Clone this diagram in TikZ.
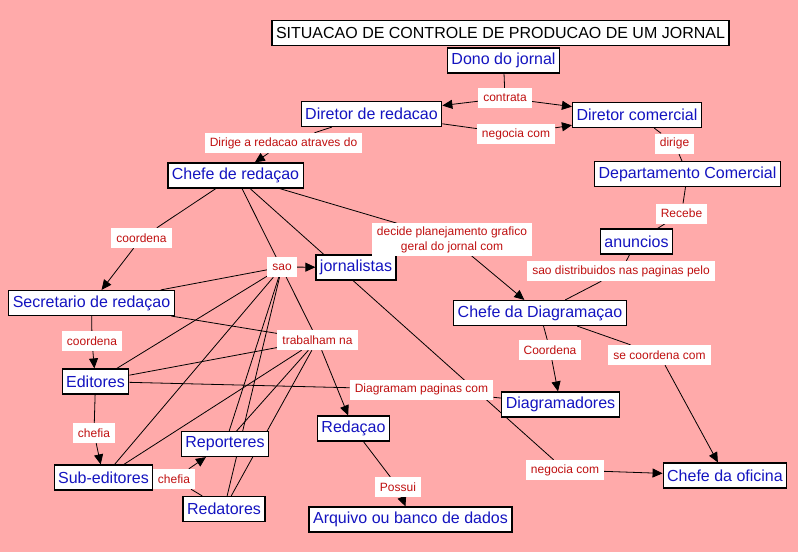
\documentclass[tikz,border=0pt]{standalone}
\usepackage{fontspec}
\setmainfont{Liberation Sans}
\usetikzlibrary{arrows.meta}
\definecolor{mappink}{HTML}{FFAAAA}
\definecolor{mapblue}{HTML}{1414C0}
\definecolor{mapred}{HTML}{C01010}
\pgfdeclarelayer{backdrop}
\pgfdeclarelayer{links}
\pgfsetlayers{backdrop,links,main}
\tikzset{
  concept/.style={draw=black, fill=white, line width=1.2pt, text=mapblue,
    font=\fontsize{16}{18}\selectfont, inner xsep=4pt, inner ysep=0pt,
    minimum height=25pt},
  phrase/.style={fill=white, text=mapred, font=\fontsize{12}{15}\selectfont,
    inner xsep=5pt, inner ysep=0pt, minimum height=20pt, align=center},
  joinline/.style={draw=black, line width=0.8pt},
  joinarrow/.style={joinline, -{Triangle[length=10pt,width=9pt]}}
}

\begin{document}
\begin{tikzpicture}[x=1pt, y=-1pt]
  \begin{pgfonlayer}{backdrop}
    \fill[mappink] (0,0) rectangle (798,552);
  \end{pgfonlayer}
  \useasboundingbox (0,0) rectangle (798,552);

  % concepts
  \node[concept, text=black] (title) at (500.5,33) {SITUACAO DE CONTROLE DE PRODUCAO DE UM JORNAL};
  \node[concept] (dono) at (503.5,60.5) {Dono do jornal};
  \node[concept] (dirred) at (371.5,114) {Diretor de redacao};
  \node[concept] (dircom) at (637,115) {Diretor comercial};
  \node[concept] (chefered) at (235.5,175.5) {Chefe de redaçao};
  \node[concept] (depcom) at (687.5,174) {Departamento Comercial};
  \node[concept] (anuncios) at (636.5,241.5) {anuncios};
  \node[concept] (jornalistas) at (356,267.5) {jornalistas};
  \node[concept] (secred) at (91.5,303) {Secretario de redaçao};
  \node[concept] (chefediag) at (540,313) {Chefe da Diagramaçao};
  \node[concept] (editores) at (95.5,381.5) {Editores};
  \node[concept] (diagramadores) at (560.5,404.5) {Diagramadores};
  \node[concept] (redacao) at (353.5,428.5) {Redaçao};
  \node[concept] (reporteres) at (225,444) {Reporteres};
  \node[concept] (chefeofi) at (725,475.5) {Chefe da oficina};
  \node[concept] (subed) at (103.5,477.5) {Sub-editores};
  \node[concept] (redatores) at (224,509) {Redatores};
  \node[concept] (arquivo) at (410.5,519.5) {Arquivo ou banco de dados};

  % linking phrases
  \node[phrase] (contrata) at (505,98) {contrata};
  \node[phrase] (negociatop) at (516,134) {negocia com};
  \node[phrase] (dirigered) at (283.5,143) {Dirige a redacao atraves do};
  \node[phrase] (dirige) at (674.5,143.5) {dirige};
  \node[phrase] (recebe) at (681.5,213.5) {Recebe};
  \node[phrase] (coordtop) at (141.5,238) {coordena};
  \node[phrase, inner ysep=3pt] (decide) at (452,239.5) {decide planejamento grafico\\geral do jornal com};
  \node[phrase] (sao) at (282,267) {sao};
  \node[phrase] (distrib) at (621,271) {sao distribuidos nas paginas pelo};
  \node[phrase] (coordsec) at (92,341) {coordena};
  \node[phrase] (trabalham) at (317.5,340) {trabalham na};
  \node[phrase] (coorddiag) at (550,350) {Coordena};
  \node[phrase] (secoord) at (659.5,355) {se coordena com};
  \node[phrase] (diagpag) at (421.5,389.5) {Diagramam paginas com};
  \node[phrase] (chefiaed) at (94,433) {chefia};
  \node[phrase] (negociabot) at (565,470) {negocia com};
  \node[phrase] (chefiasub) at (174,479) {chefia};
  \node[phrase] (possui) at (398,487) {Possui};

  \begin{pgfonlayer}{links}
    \draw[joinline] (dono) -- (contrata);
    \draw[joinarrow] (contrata) -- (dirred);
    \draw[joinarrow] (contrata) -- (dircom);
    \draw[joinline] (dirred) -- (negociatop);
    \draw[joinarrow] (negociatop) -- (dircom);
    \draw[joinline] (dirred) -- (dirigered);
    \draw[joinarrow] (dirigered) -- (chefered);
    \draw[joinline] (dircom) -- (dirige) -- (depcom);
    \draw[joinline] (depcom) -- (recebe) -- (anuncios);
    \draw[joinline] (anuncios) -- (distrib) -- (chefediag);
    \draw[joinline] (chefered) -- (coordtop);
    \draw[joinarrow] (coordtop) -- (secred);
    \draw[joinline] (chefered) -- (decide);
    \draw[joinarrow] (decide) -- (chefediag);
    \draw[joinline] (chefered) -- (trabalham);
    \draw[joinline] (chefered) -- (negociabot);
    \draw[joinarrow] (negociabot) -- (chefeofi);
    \draw[joinarrow] (sao) -- (jornalistas);
    \foreach \who in {secred,editores,subed,reporteres,redatores} {
      \draw[joinline] (\who) -- (sao);
      \draw[joinline] (\who) -- (trabalham);
    }
    \draw[joinarrow] (trabalham) -- (redacao);
    \draw[joinline] (secred) -- (coordsec);
    \draw[joinarrow] (coordsec) -- (editores);
    \draw[joinline] (editores) -- (chefiaed);
    \draw[joinarrow] (chefiaed) -- (subed);
    \draw[joinline] (subed) -- (chefiasub);
    \draw[joinarrow] (chefiasub) -- (reporteres);
    \draw[joinline] (chefiasub) -- (redatores);
    \draw[joinline] (editores) -- (diagpag) -- (diagramadores);
    \draw[joinline] (chefediag) -- (coorddiag);
    \draw[joinarrow] (coorddiag) -- (diagramadores);
    \draw[joinline] (chefediag) -- (secoord);
    \draw[joinarrow] (secoord) -- (chefeofi);
    \draw[joinline] (redacao) -- (possui);
    \draw[joinarrow] (possui) -- (arquivo);
  \end{pgfonlayer}
\end{tikzpicture}
\end{document}
